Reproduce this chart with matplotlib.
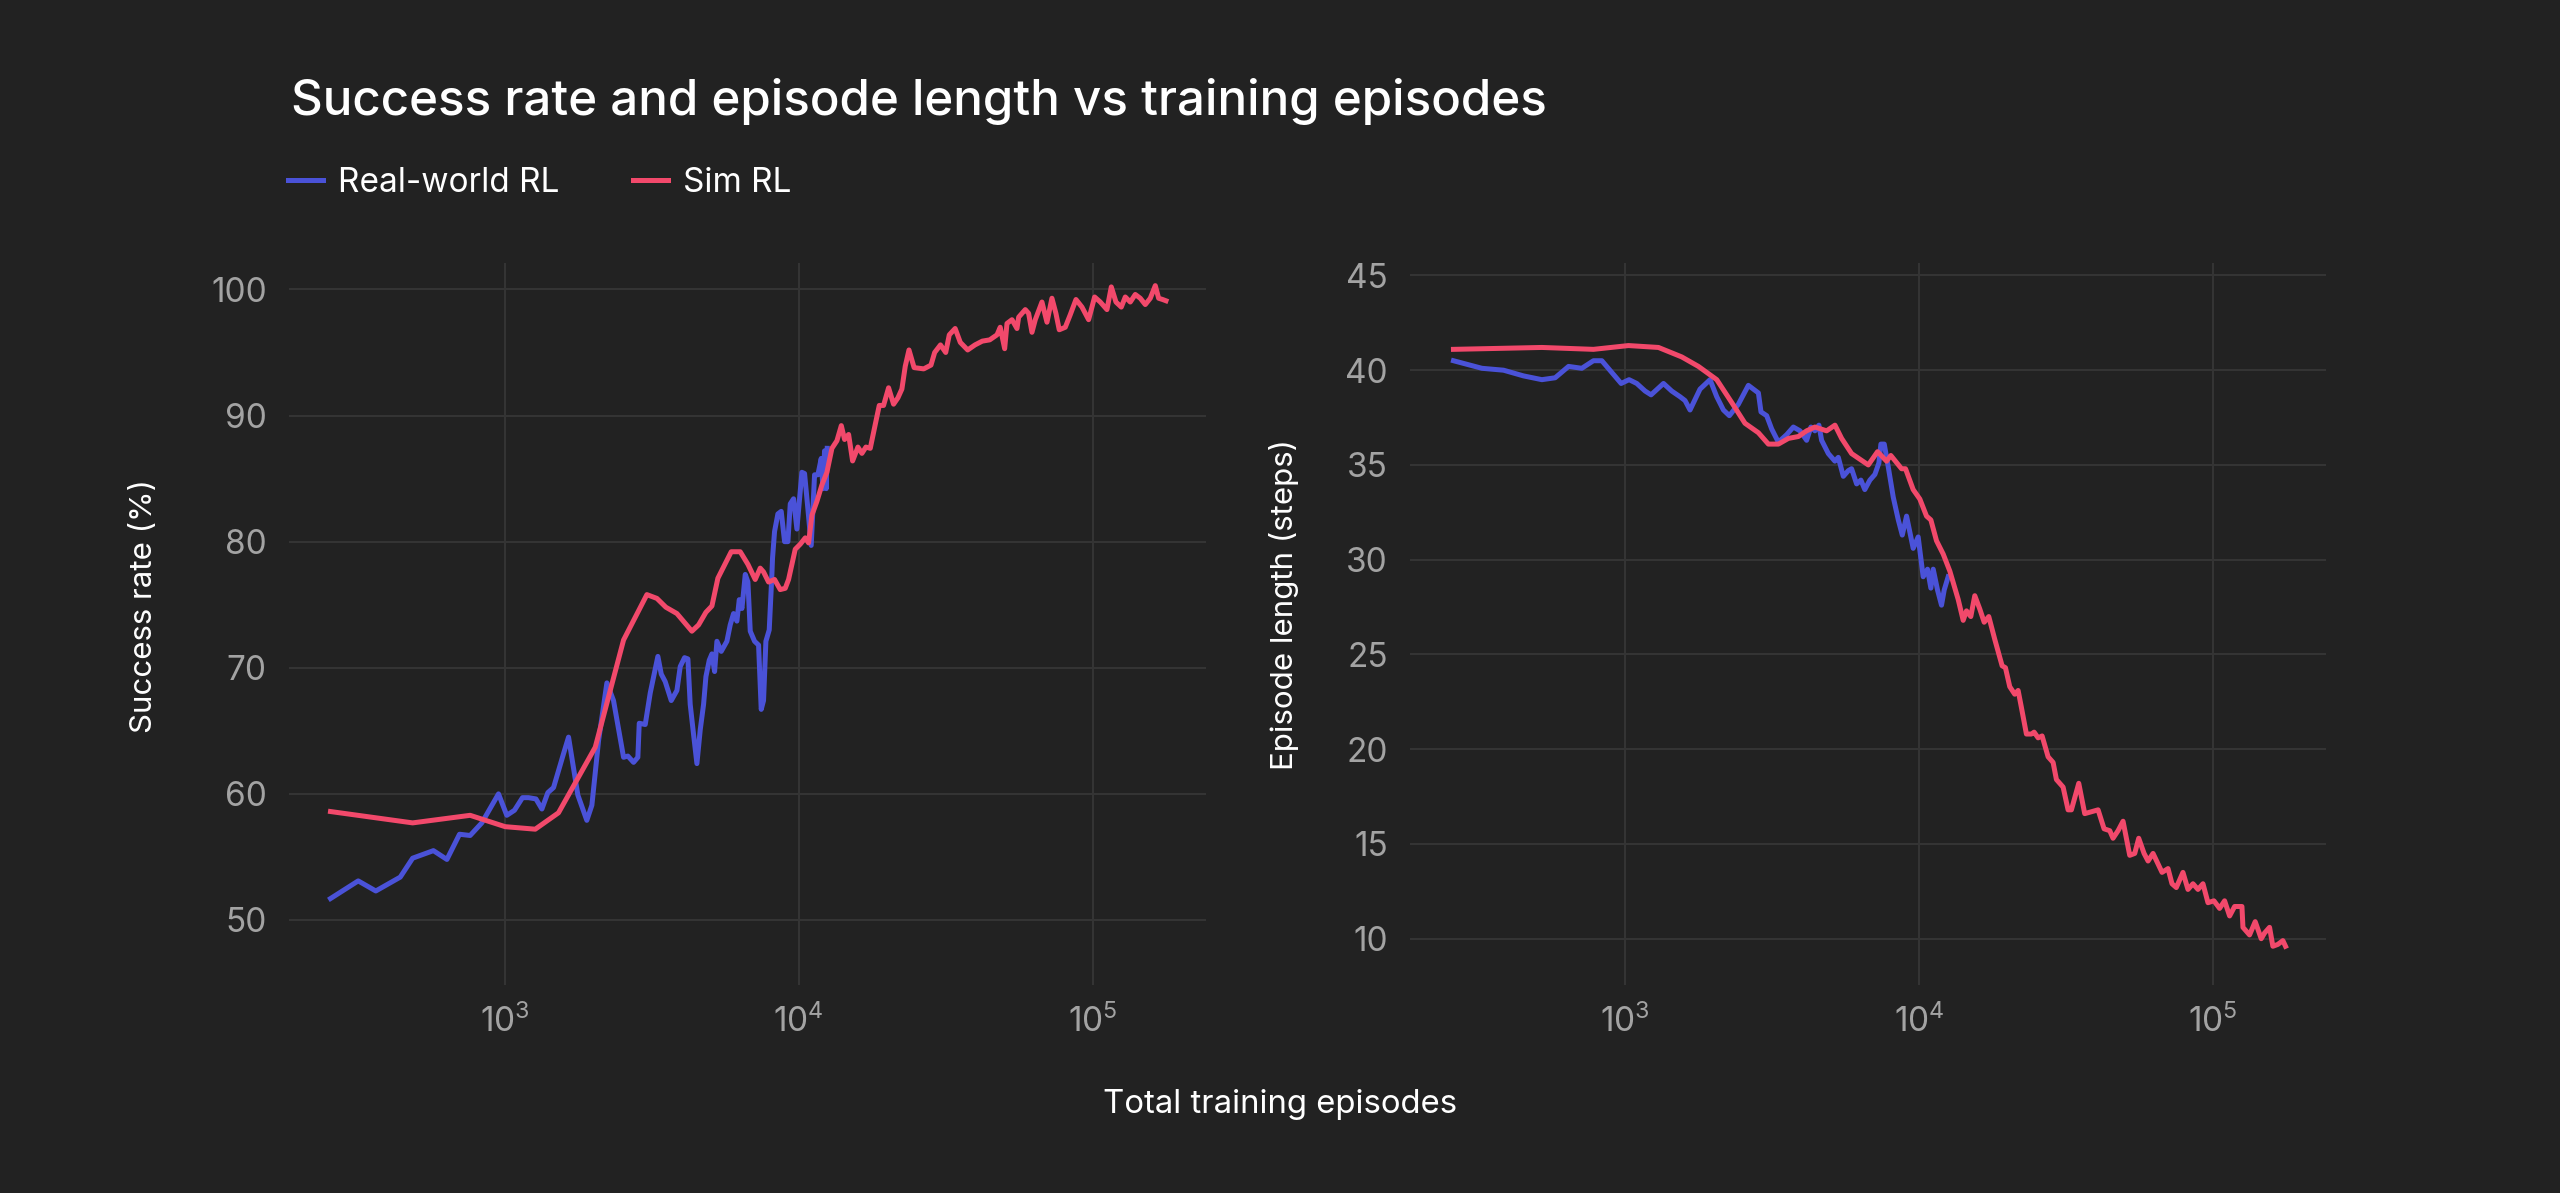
import matplotlib
matplotlib.use("Agg")
import matplotlib.pyplot as plt
from matplotlib.lines import Line2D

plt.rcParams['font.family'] = ['Inter', 'DejaVu Sans']
plt.rcParams['mathtext.fontset'] = 'custom'
plt.rcParams['mathtext.rm'] = 'Inter'
plt.rcParams['mathtext.it'] = 'Inter'
plt.rcParams['mathtext.bf'] = 'Inter'

# success rate (%) vs episodes
real_x_sr = [256, 318, 365, 442, 487, 573, 637, 703, 764, 837, 954, 1018, 1081, 1151, 1207,
             1279, 1340, 1404, 1468, 1588, 1651, 1776, 1905, 1982, 2088, 2229, 2348, 2540, 2627,
             2747, 2841, 2872, 3010, 3130, 3323, 3412, 3520, 3690, 3857, 3959, 4095, 4204, 4280,
             4395, 4511, 4631, 4753, 4841, 4969, 5074, 5181, 5276, 5458, 5705, 5855, 6010, 6169,
             6285, 6418, 6587, 6726, 6850, 7086, 7311, 7464, 7601, 7742, 7947, 8115, 8156, 8285,
             8505, 8730, 8962, 9199, 9370, 9616, 9870, 10264, 10481, 10757, 11040, 11333, 11632,
             11942, 12096, 12256, 12418, 12515]
real_sr = [51.7, 53.1, 52.3, 53.4, 54.9, 55.5, 54.8, 56.8, 56.7, 57.7, 60.0, 58.3, 58.7, 59.7, 59.7,
           59.6, 58.8, 60.1, 60.5, 63.2, 64.5, 59.9, 57.9, 59.1, 64.2, 68.8, 67.4, 62.9, 63.0,
           62.5, 62.9, 65.6, 65.5, 68.0, 70.9, 69.5, 68.9, 67.4, 68.2, 70.1, 70.8, 70.7, 67.1,
           64.7, 62.4, 65.1, 67.1, 69.3, 70.6, 71.1, 69.7, 72.1, 71.3, 72.1, 73.4, 74.3, 73.7,
           75.4, 74.7, 77.4, 76.8, 72.9, 72.1, 71.8, 66.7, 67.4, 72.1, 73.0, 77.4, 78.7, 80.8,
           82.2, 82.4, 80.0, 80.0, 83.0, 83.4, 81.0, 85.5, 85.4, 82.6, 79.7, 85.3, 85.3,
           86.6, 84.2, 87.2, 84.2, 87.4]

sim_x_sr = [256, 487, 764, 1005, 1272, 1526, 2035, 2540, 3049, 3298, 3538, 3857, 4337, 4571, 4841,
            5074, 5316, 5902, 6333, 6726, 7121, 7405, 7601, 7905, 8286, 8661, 9008, 9247, 9743,
            10132, 10537, 10814, 11101, 11545, 12006, 12485, 12984, 13502, 13974, 14337, 14796,
            15266, 15916, 16422, 16944, 17531, 18231, 18811, 19454, 20236, 21040, 21765, 22457,
            23053, 23740, 24710, 26650, 28200, 29030, 30380, 31650, 32550, 34080, 35480, 37590,
            39810, 42150, 44670, 47300, 48500, 50217, 51138, 53180, 55303, 56035, 59020, 60580,
            62190, 63830, 67250, 69940, 72710, 75020, 77000, 80720, 83950, 87780, 91990, 96910,
            101580, 106190, 111870, 115740, 120050, 125170, 129150, 134300, 139650, 145230,
            151030, 157070, 163340, 167690, 173020, 177590]
sim_sr = [58.6, 57.7, 58.3, 57.4, 57.2, 58.5, 63.7, 72.2, 75.8, 75.5, 74.8, 74.3, 72.9, 73.4, 74.4,
          74.9, 77.1, 79.2, 79.2, 78.2, 77.0, 77.9, 77.6, 76.8, 77.0, 76.2, 76.3, 77.0, 79.4,
          79.8, 80.3, 79.9, 82.1, 83.2, 84.5, 85.5, 87.4, 88.0, 89.2, 88.1, 88.5,
          86.4, 87.5, 87.0, 87.5, 87.4, 89.3, 90.8, 90.8, 92.2, 90.9, 91.4, 92.1,
          93.9, 95.2, 93.8, 93.7, 94.0, 95.0, 95.6, 95.0, 96.4, 96.9, 95.8, 95.2,
          95.6, 95.9, 96.0, 96.4, 97.0, 95.3, 97.3, 97.6, 96.9, 97.8, 98.4, 98.1,
          96.6, 97.6, 99.0, 97.4, 99.3, 98.1, 96.8, 97.0, 98.0, 99.2, 98.6, 97.6,
          99.4, 99.0, 98.4, 100.2, 99.0, 98.6, 99.4, 99.0, 99.6, 99.3,
          98.8, 99.3, 100.3, 99.3, 99.2, 99.1]

# episode length (steps) vs episodes
real_x_len = [260, 325, 385, 450, 520, 577, 641, 711, 779, 832, 968, 1030, 1094, 1168, 1224, 1349,
              1439, 1536, 1597, 1661, 1796, 1943, 2048, 2158, 2261, 2426, 2624, 2839, 2897, 3029,
              3150, 3320, 3543, 3734, 3933, 4143, 4285, 4422, 4562, 4660, 4912, 5171, 5311, 5524,
              5744, 5894, 6131, 6341, 6537, 6803, 7075, 7300, 7416, 7614, 7856, 8170, 8500, 8770,
              9069, 9552, 9934, 10330, 10688, 10972, 11176, 11561, 11928, 12181, 12567]
real_len = [40.5, 40.1, 40.0, 39.7, 39.5, 39.6, 40.2, 40.1, 40.5, 40.5, 39.3, 39.5, 39.3, 38.9, 38.7, 39.3,
            38.9, 38.6, 38.4, 37.9, 39.0, 39.5, 38.6, 37.9, 37.6, 38.2, 39.2, 38.8, 37.8, 37.6,
            36.9, 36.2, 36.6, 37.0, 36.8, 36.3, 37.0, 36.8, 37.1, 36.3, 35.6, 35.2, 35.4, 34.4,
            34.7, 34.8, 34.0, 34.2, 33.7, 34.2, 34.5, 35.1, 36.1, 36.1, 34.9, 33.3, 32.1, 31.3,
            32.3, 30.6, 31.2, 29.1, 29.5, 28.5, 29.5, 28.4, 27.6, 28.4, 29.1]

sim_x_len = [260, 520, 779, 1025, 1297, 1557, 1774, 2048, 2302, 2555, 2839, 3070, 3320, 3591, 3883,
             4143, 4422, 4846, 5174, 5451, 5894, 6719, 7224, 7753, 8017, 8720, 8995, 9552, 10064,
             10605, 10972, 11468, 12084, 12730, 13595, 14136, 14508, 15005, 15482, 16100, 16665,
             17276, 18105, 19183, 19690, 20364, 21178, 21747, 22315, 23206, 24137, 24651, 25434,
             26243, 27505, 28610, 29360, 30940, 32170, 33020, 34980, 36650, 38640, 40700, 42660,
             44600, 45760, 47600, 49500, 52160, 54250, 55970, 58370, 60220, 62620, 67200, 70420,
             72650, 75150, 79170, 82340, 85640, 89060, 92620, 96320, 100930, 105500, 109720,
             114130, 118700, 125710, 126700, 133460, 139490, 146220, 150100, 156080, 160210,
             166590, 173290, 176920]
sim_len = [41.1, 41.2, 41.1, 41.3, 41.2, 40.7, 40.2, 39.5, 38.3, 37.2, 36.7, 36.1, 36.1, 36.4, 36.5,
           36.8, 37.0, 36.8, 37.1, 36.4, 35.6, 35.0, 35.7, 35.2, 35.5, 34.8, 34.8, 33.7, 33.2,
           32.3, 32.1, 31.0, 30.3, 29.4, 27.9, 26.8, 27.3, 27.0, 28.1, 27.4, 26.7,
           27.0, 25.8, 24.4, 24.3, 23.3, 22.9, 23.1, 22.2, 20.8, 20.8, 20.9, 20.6,
           20.7, 19.6, 19.3, 18.4, 18.0, 16.8, 16.8, 18.2, 16.6, 16.7, 16.8, 15.8,
           15.7, 15.3, 15.7, 16.2, 14.4, 14.5, 15.3, 14.5, 14.1, 14.5, 13.5, 13.7,
           12.9, 12.7, 13.5, 12.6, 12.9, 12.6, 12.9, 11.9, 12.0, 11.6, 12.0,
           11.2, 11.7, 11.7, 10.6, 10.2, 10.9, 10.0, 10.3, 10.6, 9.6,
           9.7, 9.9, 9.6]

BG = '#222222'
BLUE = '#4a52d8'
RED = '#f2496b'
GRID = '#353535'
TICK = '#a3a3a3'

fig = plt.figure(figsize=(25.6, 11.93), dpi=100, facecolor=BG)
ax1 = fig.add_axes([0.1129, 0.1744, 0.3582, 0.6052])
ax2 = fig.add_axes([0.5508, 0.1744, 0.3578, 0.6052])

ax1.plot(real_x_sr, real_sr, color=BLUE, lw=3.6)
ax1.plot(sim_x_sr, sim_sr, color=RED, lw=3.6)
ax2.plot(real_x_len, real_len, color=BLUE, lw=3.6)
ax2.plot(sim_x_len, sim_len, color=RED, lw=3.6)

ax1.set_ylim(44.85, 102.1)
ax1.set_yticks([50, 60, 70, 80, 90, 100])
ax2.set_ylim(7.56, 45.66)
ax2.set_yticks([10, 15, 20, 25, 30, 35, 40, 45])

for ax in (ax1, ax2):
    ax.set_facecolor(BG)
    ax.set_xscale('log')
    ax.set_xlim(185, 243000)
    ax.set_xticks([1e3, 1e4, 1e5])
    ax.minorticks_off()
    ax.grid(True, color=GRID, lw=1.4)
    ax.set_axisbelow(True)
    for s in ax.spines.values():
        s.set_visible(False)
    ax.tick_params(length=0, labelsize=24, colors=TICK)
    ax.tick_params(axis='y', pad=16)
    ax.tick_params(axis='x', pad=14)

ax1.set_ylabel('Success rate (%)', fontsize=22.5, color='white')
ax1.yaxis.set_label_coords(-0.1425, 0.525)
ax2.set_ylabel('Episode length (steps)', fontsize=22.5, color='white')
ax2.yaxis.set_label_coords(-0.121, 0.527)

fig.text(291 / 2560, 0.9036, 'Success rate and episode length vs training episodes',
         fontsize=35.5, color='white', ha='left', va='baseline', fontweight='medium')

handles = [Line2D([], [], color=BLUE, lw=3.6), Line2D([], [], color=RED, lw=3.6)]
leg = fig.legend(handles, ['Real-world RL', 'Sim RL'], loc='center left',
                 bbox_to_anchor=(288 / 2560, 0.847), ncol=2, frameon=False,
                 fontsize=24, handlelength=1.05, handletextpad=0.45, columnspacing=2.2,
                 borderpad=0, borderaxespad=0)
for t in leg.get_texts():
    t.set_color('white')

fig.text(0.5, 1 - 1104 / 1193, 'Total training episodes', fontsize=23.7, color='white',
         ha='center', va='center')

fig.savefig('out.png', dpi=100, facecolor=BG)
